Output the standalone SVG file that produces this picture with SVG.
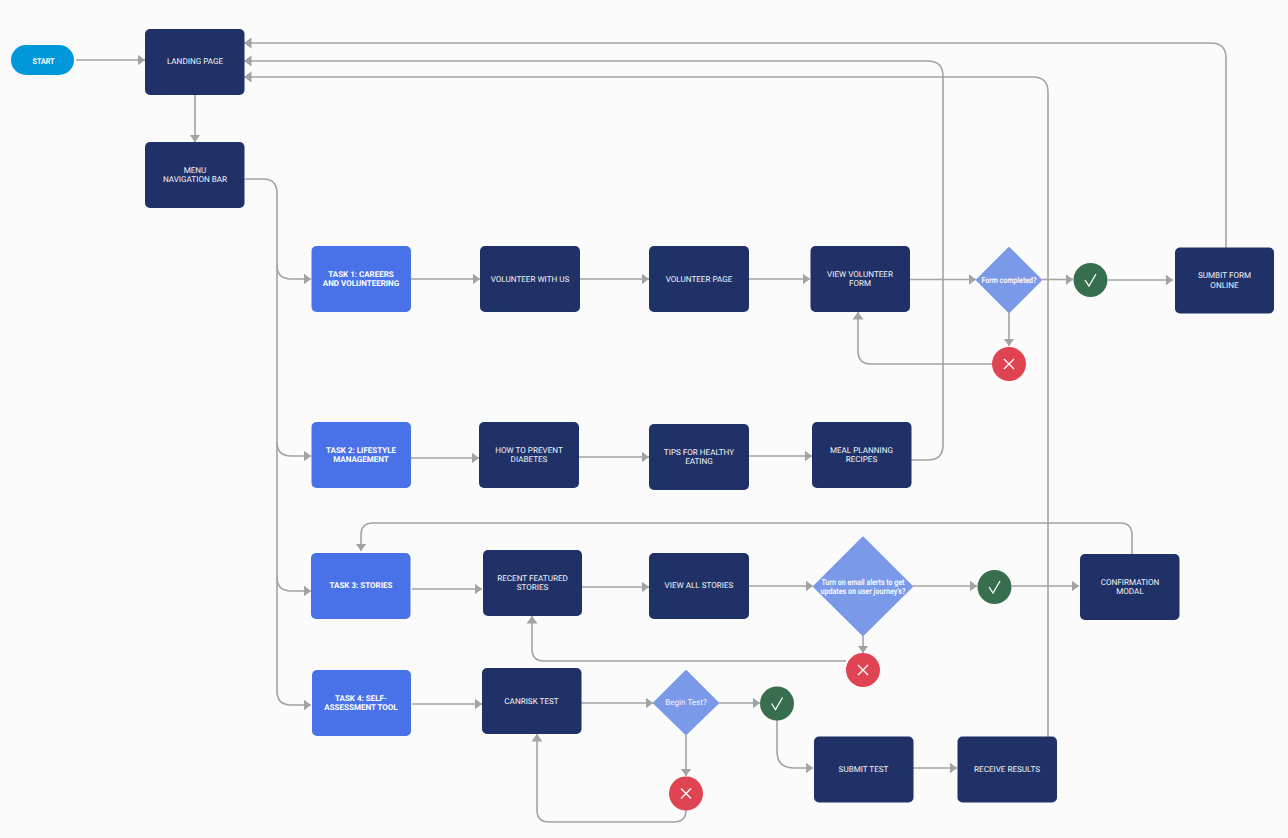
<svg xmlns="http://www.w3.org/2000/svg" width="1288" height="838" viewBox="0 0 1288 838">
<style>
.n{fill:#1f3166}
.t{fill:#4a72e8}
.d{fill:#7a99e8}
.ok{fill:#366e4e}
.no{fill:#e04352}
.c{fill:none;stroke:#a3a3a3;stroke-width:1.6}
.g{fill:none;stroke:#fff;stroke-width:1.3}
text{font-family:Roboto,"Liberation Sans",sans-serif;font-size:8.1px;fill:#f4f6fc;text-anchor:middle;text-rendering:geometricPrecision;transform:translateY(-.6px)}
.b{font-weight:700;fill:#fff;font-size:8px}
.q{font-weight:700;font-size:8.4px;transform:none}
</style>
<defs>
<marker id="a" markerUnits="userSpaceOnUse" markerWidth="8" markerHeight="12" refX="7.500" refY="6" orient="auto"><path d="M0 0.500L7.500 6L0 11.500Z" fill="#a3a3a3"/></marker>
</defs>
<rect width="1288" height="838" fill="#fbfbfb"/>
<g id="connectors">
<path class="c" marker-end="url(#a)" d="M76 60H145"/>
<path class="c" marker-end="url(#a)" d="M195 95V142"/>
<path class="c" d="M245 179H263Q277 179 277 193V692"/>
<path class="c" marker-end="url(#a)" d="M277 265Q277 279 291 279H311"/>
<path class="c" marker-end="url(#a)" d="M277 442Q277 456 291 456H311"/>
<path class="c" marker-end="url(#a)" d="M277 577Q277 591 291 591H311"/>
<path class="c" marker-end="url(#a)" d="M277 691Q277 705 291 705H311"/>
<path class="c" marker-end="url(#a)" d="M411 279H480"/>
<path class="c" marker-end="url(#a)" d="M580 279H649"/>
<path class="c" marker-end="url(#a)" d="M749 279H810"/>
<path class="c" marker-end="url(#a)" d="M910 279.500H976"/>
<path class="c" marker-end="url(#a)" d="M1042 279.500H1073"/>
<path class="c" marker-end="url(#a)" d="M1108 280H1173"/>
<path class="c" marker-end="url(#a)" d="M1009 312V346"/>
<path class="c" marker-end="url(#a)" d="M992 364H871Q858 364 858 351V312"/>
<path class="c" marker-end="url(#a)" d="M1226 248V58Q1226 43 1211 43H244"/>
<path class="c" marker-end="url(#a)" d="M911 460H928Q943 460 943 445V76Q943 61 928 61H244"/>
<path class="c" marker-end="url(#a)" d="M1048 742V92Q1048 77 1033 77H244"/>
<path class="c" marker-end="url(#a)" d="M411 458H479"/>
<path class="c" marker-end="url(#a)" d="M579 457H649"/>
<path class="c" marker-end="url(#a)" d="M749 456H812"/>
<path class="c" marker-end="url(#a)" d="M412 589H482"/>
<path class="c" marker-end="url(#a)" d="M582 587H649"/>
<path class="c" marker-end="url(#a)" d="M749 586H813"/>
<path class="c" marker-end="url(#a)" d="M913 586H977"/>
<path class="c" marker-end="url(#a)" d="M1012 586H1079"/>
<path class="c" marker-end="url(#a)" d="M863 636V653"/>
<path class="c" marker-end="url(#a)" d="M846 661H544Q532 661 532 649V616"/>
<path class="c" marker-end="url(#a)" d="M1132 554V535Q1132 523 1120 523H373Q361 523 361 535V551"/>
<path class="c" marker-end="url(#a)" d="M412 704H482"/>
<path class="c" marker-end="url(#a)" d="M581 703H653"/>
<path class="c" marker-end="url(#a)" d="M719 703H760"/>
<path class="c" marker-end="url(#a)" d="M686 735V776"/>
<path class="c" marker-end="url(#a)" d="M686 810Q686 822 674 822H549Q537 822 537 810V734"/>
<path class="c" marker-end="url(#a)" d="M777 720V751Q777 768 794 768H813"/>
<path class="c" marker-end="url(#a)" d="M913 768H957"/>
</g>
<g id="start"><rect x="11" y="45" width="63" height="30" rx="15" fill="#0098da"/><text class="b" x="43.500" y="64.500" textLength="22" lengthAdjust="spacingAndGlyphs">START</text></g>
<g id="landing"><rect class="n" x="145" y="29" width="99.500" height="66" rx="5"/><text x="195" y="64.500">LANDING PAGE</text></g>
<g id="menu"><rect class="n" x="145" y="142" width="99.500" height="66" rx="5"/><text x="195" y="173.500">MENU</text><text x="195" y="183">NAVIGATION BAR</text></g>
<g id="task1"><rect class="t" x="311.500" y="246" width="99.500" height="66" rx="5"/><text class="b" x="361" y="277.500">TASK 1: CAREERS</text><text class="b" x="361" y="287">AND VOLUNTEERING</text></g>
<g id="volunteer-with-us"><rect class="n" x="480" y="246" width="100" height="66" rx="5"/><text x="530" y="282.500">VOLUNTEER WITH US</text></g>
<g id="volunteer-page"><rect class="n" x="649" y="246" width="100" height="66" rx="5"/><text x="699" y="282.500">VOLUNTEER PAGE</text></g>
<g id="view-form"><rect class="n" x="810.500" y="246" width="99.500" height="66" rx="5"/><text x="860" y="277.500">VIEW VOLUNTEER</text><text x="860" y="287">FORM</text></g>
<g id="form-completed"><path class="d" stroke="#7a99e8" stroke-width="2" stroke-linejoin="round" d="M1009 248L1041 280L1009 312L977 280Z"/><text class="q" x="1009" y="283" textLength="55" lengthAdjust="spacingAndGlyphs">Form completed?</text></g>
<g id="form-yes"><circle class="ok" cx="1090.500" cy="280" r="17"/><path class="g" d="M1085 280L1089 286L1096 274"/></g>
<g id="form-no"><circle class="no" cx="1009" cy="364" r="17"/><path class="g" d="M1004 359L1014 369M1014 359L1004 369"/></g>
<g id="submit-form"><rect class="n" x="1175" y="247.500" width="99" height="66" rx="5"/><text x="1224.500" y="279">SUMBIT FORM</text><text x="1224.500" y="288.500">ONLINE</text></g>
<g id="task2"><rect class="t" x="311.500" y="422" width="99.500" height="66" rx="5"/><text class="b" x="361" y="453.500">TASK 2: LIFESTYLE</text><text class="b" x="361" y="462.500">MANAGEMENT</text></g>
<g id="prevent"><rect class="n" x="479" y="422" width="100" height="66" rx="5"/><text x="529" y="453.500">HOW TO PREVENT</text><text x="529" y="462.500">DIABETES</text></g>
<g id="tips"><rect class="n" x="649" y="424" width="100" height="66" rx="5"/><text x="699" y="455.500">TIPS FOR HEALTHY</text><text x="699" y="464.500">EATING</text></g>
<g id="meal"><rect class="n" x="812" y="422" width="99.500" height="66" rx="5"/><text x="861.500" y="453.500">MEAL PLANNING</text><text x="861.500" y="462.500">RECIPES</text></g>
<g id="task3"><rect class="t" x="311" y="553" width="99.500" height="66" rx="5"/><text class="b" x="361" y="589">TASK 3: STORIES</text></g>
<g id="recent"><rect class="n" x="483" y="550" width="99" height="66" rx="5"/><text x="532.500" y="581.500">RECENT FEATURED</text><text x="532.500" y="591">STORIES</text></g>
<g id="view-all"><rect class="n" x="649" y="553" width="100" height="66" rx="5"/><text x="699" y="589">VIEW ALL STORIES</text></g>
<g id="email-alerts"><path class="d" stroke="#7a99e8" stroke-width="2" stroke-linejoin="round" d="M863 537.500L912 586.500L863 635L814 586.500Z"/><text class="q" x="863" y="585" textLength="83" lengthAdjust="spacingAndGlyphs">Turn on email alerts to get</text><text class="q" x="863" y="594" textLength="85" lengthAdjust="spacingAndGlyphs">updates on user journey's?</text></g>
<g id="email-yes"><circle class="ok" cx="994.500" cy="587" r="17"/><path class="g" d="M989 587L993 593L1000 581"/></g>
<g id="email-no"><circle class="no" cx="863" cy="670" r="17"/><path class="g" d="M858 665L868 675M868 665L858 675"/></g>
<g id="confirmation"><rect class="n" x="1080" y="554" width="99.500" height="66" rx="5"/><text x="1130" y="585.500">CONFIRMATION</text><text x="1130" y="595">MODAL</text></g>
<g id="task4"><rect class="t" x="312" y="670" width="99" height="66" rx="5"/><text class="b" x="361" y="701.500">TASK 4: SELF-</text><text class="b" x="361" y="711">ASSESSMENT TOOL</text></g>
<g id="canrisk"><rect class="n" x="482" y="668" width="99.500" height="66" rx="5"/><text x="531.500" y="704.500">CANRISK TEST</text></g>
<g id="begin-test"><path class="d" stroke="#7a99e8" stroke-width="2" stroke-linejoin="round" d="M686 671L718 703L686 734L654 703Z"/><text x="686" y="706">Begin Test?</text></g>
<g id="begin-yes"><circle class="ok" cx="777" cy="703.500" r="17"/><path class="g" d="M771.500 703.500L775.500 709.500L782.500 697.500"/></g>
<g id="begin-no"><circle class="no" cx="686" cy="793.500" r="17"/><path class="g" d="M681 788.500L691 798.500M691 788.500L681 798.500"/></g>
<g id="submit-test"><rect class="n" x="814" y="736.500" width="99.500" height="66" rx="5"/><text x="863.500" y="772.500">SUBMIT TEST</text></g>
<g id="receive"><rect class="n" x="957.500" y="736.500" width="99.500" height="66" rx="5"/><text x="1007" y="772.500">RECEIVE RESULTS</text></g>
</svg>
